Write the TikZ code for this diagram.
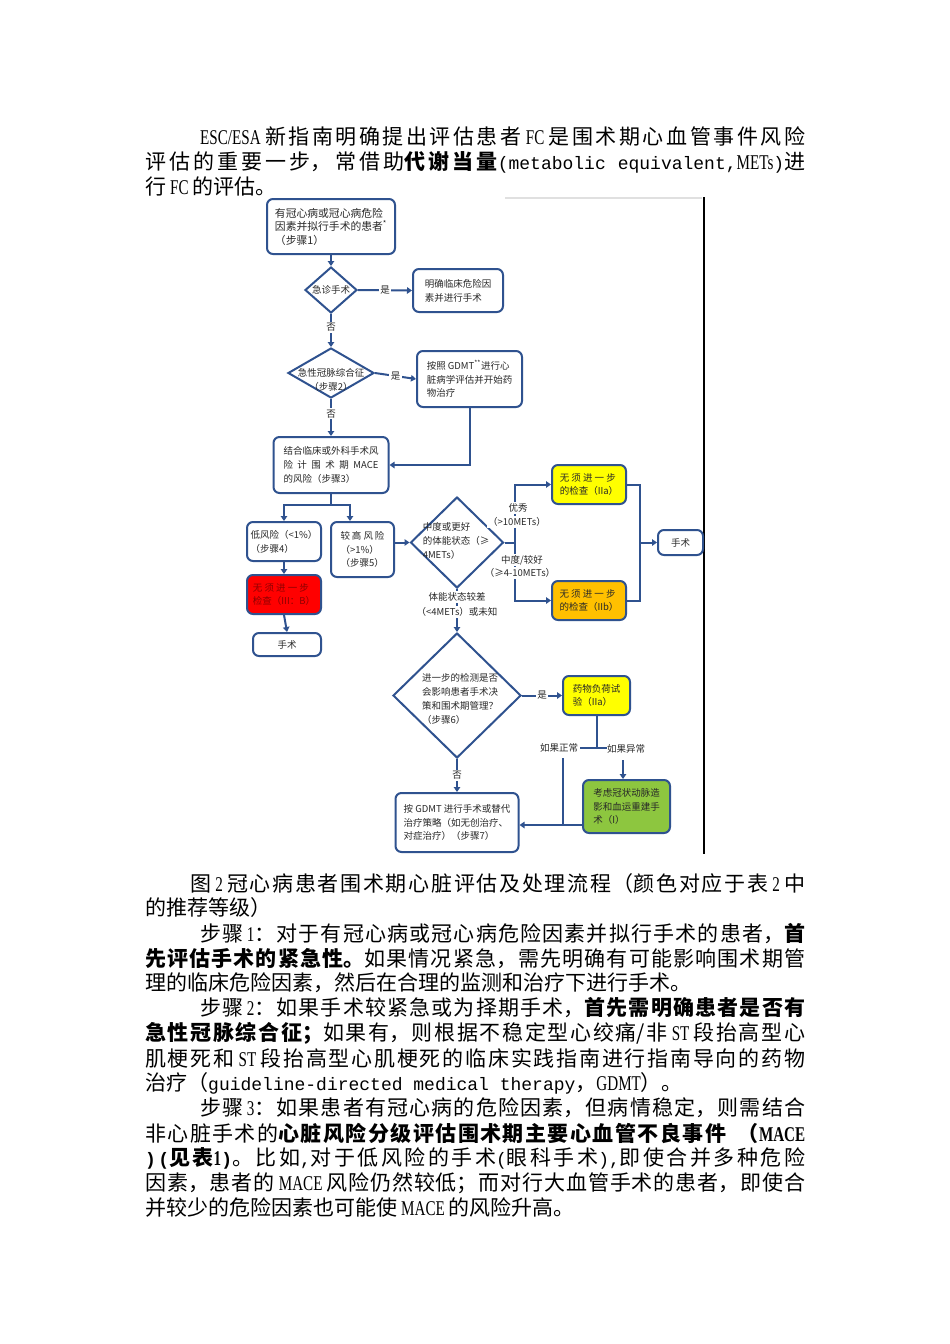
\documentclass[tikz,border=0pt]{standalone}
\usepackage{fontspec}
\usetikzlibrary{arrows.meta,shapes.geometric,calc}
\newfontfamily\cjk{Noto Sans CJK SC}
\newfontfamily\lat{Liberation Serif}[FakeStretch=0.72]
\newfontfamily\mono{Liberation Mono}
\XeTeXlinebreaklocale "zh"
\XeTeXlinebreakskip=0pt
\newcommand\bt{\cjk\fontsize{21}{25}\selectfont}
\newcommand\ff{\cjk\fontsize{9.5}{13.8}\selectfont}
\newcommand\la[1]{{\lat #1}}
\newcommand\las[1]{\hskip 4pt plus 2pt{\lat #1}\hskip 4pt plus 2pt\relax}
\newcommand\mo[1]{{\mono\fontsize{18}{25}\selectfont #1}}
\newcommand\jl[2]{\parbox{#1pt}{\XeTeXlinebreakskip=0pt plus 14pt\relax\leftskip=0pt\rightskip=0pt\parfillskip=0pt\noindent #2}}
\newcommand\spr[2]{\leavevmode\hbox to #1pt{#2}}
\definecolor{bc}{RGB}{47,82,143}
\definecolor{tc}{RGB}{40,40,40}
\definecolor{ylf}{RGB}{255,255,0}
\definecolor{orf}{RGB}{255,192,0}
\definecolor{rdf}{RGB}{255,0,0}
\definecolor{rdt}{RGB}{140,0,0}
\definecolor{grf}{RGB}{141,198,63}
\tikzset{
  bx/.style={draw=bc, line width=2pt, rounded corners=6pt, fill=white, inner sep=0pt,
    text=tc, font=\ff, align=left},
  dm/.style={draw=bc, line width=2pt, fill=white, diamond, inner sep=0pt},
  tx/.style={font=\ff, text=tc, align=left, inner sep=0pt},
  ar/.style={draw=bc, line width=2pt, -{Triangle[length=5pt,width=6.5pt]}},
  ln/.style={draw=bc, line width=2pt},
  lb/.style={font=\ff, text=tc, inner sep=1.5pt, fill=white},
  bl/.style={font=\bt, anchor=west, inner sep=0pt, text=black},
}
\begin{document}
\begin{tikzpicture}[x=1pt,y=-1pt]
\useasboundingbox (0,0) rectangle (950,1344);
\fill[white] (0,0) rectangle (950,1344);

% ---------- body text above ----------
\node[bl] (l1) at (200,137) {\jl{605}{\hbox{\lat ESC/ESA}\hskip 4pt plus 2pt 新指南明确提出评估患者\las{FC}是围术期心血管事件风险}};
\node[bl] (l2) at (145,162) {\jl{660}{评估的重要一步，常借助{\bfseries 代谢当量}\mo{(metabolic equivalent,}\la{METs}\mo{)}进}};
\node[bl] (l3) at (145,187) {行\las{FC}的评估。};

% ---------- figure frame ----------
\draw[black!12, line width=2.5pt] (505,198) -- (702,198);
\draw[black, line width=1.3pt] (704,197) -- (704,854);

% ---------- flowchart ----------
\node[bx, font=\cjk\fontsize{10.8}{13.5}\selectfont, minimum width=128pt, minimum height=55pt] (b1) at (331,226.5)
  {有冠心病或冠心病危险\\因素并拟行手术的患者\textsuperscript{*}\\（步骤1）};
\node[dm, minimum width=52pt, minimum height=46pt] (d1) at (331,290) {};
\node[tx] (t1) at (d1) {急诊手术};
\node[bx, minimum width=90pt, minimum height=43pt] (b2) at (458,290.5)
  {明确临床危险因\\素并进行手术};
\node[dm, minimum width=86pt, minimum height=50pt] (d2) at (331,373) {};
\node[tx, align=center] (t2) at (331,380) {急性冠脉综合征\\（步骤2）};
\node[bx, minimum width=105pt, minimum height=56pt] (b3) at (469.5,379)
  {按照 GDMT\textsuperscript{**}进行心\\脏病学评估并开始药\\物治疗};
\node[bx, minimum width=115pt, minimum height=56pt] (b4) at (331,465)
  {结合临床或外科手术风\\\spr{95}{险\hfill 计\hfill 围\hfill 术\hfill 期\hfill MACE}\\的风险（步骤3）};
\node[bx, minimum width=74pt, minimum height=39pt] (b5) at (284,541.5)
  {低风险（<1\%）\\（步骤4）};
\node[bx, minimum width=63pt, minimum height=55pt] (b6) at (362.5,549.5)
  {\spr{44}{较\hfill 高\hfill 风\hfill 险}\\（>1\%）\\（步骤5）};
\node[bx, fill=rdf, text=rdt, minimum width=74pt, minimum height=39pt] (rd) at (284,594.5)
  {\spr{56}{无\hfill 须\hfill 进\hfill 一\hfill 步}\\检查（III：B）};
\node[bx, align=center, minimum width=68pt, minimum height=23pt] (b7) at (287,644.5) {手术};
\node[dm, minimum width=93pt, minimum height=91pt] (d3) at (457,542.5) {};
\node[tx] (t3) at (456,541) {中度或更好\\的体能状态（≥\\4METs）};
\node[bx, fill=ylf, minimum width=74pt, minimum height=39pt] (y1) at (589,484.5)
  {\spr{56}{无\hfill 须\hfill 进\hfill 一\hfill 步}\\的检查（IIa）};
\node[bx, fill=orf, minimum width=74pt, minimum height=39pt] (o1) at (589,600.5)
  {\spr{56}{无\hfill 须\hfill 进\hfill 一\hfill 步}\\的检查（IIb）};
\node[bx, align=center, minimum width=45pt, minimum height=25pt] (b8) at (680.5,542.5) {手术};
\node[dm, minimum width=128pt, minimum height=125pt] (d4) at (457,695.5) {};
\node[tx] (t4) at (460,699) {进一步的检测是否\\会影响患者手术决\\策和围术期管理？\\（步骤6）};
\node[bx, fill=ylf, minimum width=67pt, minimum height=39pt] (y2) at (596.5,695.5)
  {药物负荷试\\验（IIa）};
\node[bx, fill=grf, minimum width=87pt, minimum height=53pt] (gr) at (626.5,806.5)
  {考虑冠状动脉造\\影和血运重建手\\术（I）};
\node[bx, minimum width=123pt, minimum height=59pt] (b9) at (457,822.5)
  {按 GDMT 进行手术或替代\\治疗策略（如无创治疗、\\对症治疗）（步骤7）};

% connectors
\draw[ar] (b1.south) -- (d1.north);
\draw[ar] (d1.east) -- (b2.west) node[lb, midway] (ly1) {是};
\draw[ar] (d1.south) -- (d2.north) node[lb, pos=0.4] (ln1) {否};
\draw[ar] (d2.east) -- (b3.west) node[lb, midway] (ly2) {是};
\draw[ar] (d2.south) -- (b4.north) node[lb, pos=0.4] (ln2) {否};
\draw[ar] (b3.south) |- (b4.east);
\coordinate (j1) at (331,505);
\coordinate (j1r) at (350,505);
\draw[ln] (b4.south) -- (j1);
\draw[ar] (j1) -| (b5.north);
\draw[ar] (j1) -- (j1r) -- (j1r |- b6.north);
\draw[ar] (b5.south) -- (rd.north);
\draw[ar] (rd.south) -- (b7.north);
\draw[ar] (b6.east |- d3.west) -- (d3.west);
\coordinate (s1) at (515,542.5);
\coordinate (s2) at (640,542.5);
\draw[ln] (d3.east) -- (s1);
\draw[ar] (s1) |- (y1.west);
\draw[ar] (s1) |- (o1.west);
\draw[ln] (y1.east) -| (s2);
\draw[ln] (o1.east) -| (s2);
\draw[ar] (s2) -- (b8.west);
\node[lb] (lg1) at (518,508) {优秀};
\node[lb] (lg2) at (517,522) {（>10METs）};
\node[lb] (lg3) at (522,560) {中度/较好};
\node[lb] (lg4) at (520,573) {（≥4-10METs）};
\draw[ar] (d3.south) -- (d4.north);
\node[lb] (lp1) at (457,597) {体能状态较差};
\node[lb] (lp2) at (457,612) {（<4METs）或未知};
\draw[ar] (d4.east) -- (y2.west) node[lb, midway] (ly3) {是};
\coordinate (tj) at (596.5,748);
\coordinate (tl) at (580,748);
\coordinate (tr) at (607,748);
\draw[ln] (y2.south) -- (tj);
\draw[ln] (tl) -- (tr);
\node[lb, fill=none] (lnorm) at (559,748) {如果正常};
\node[lb, fill=none] (labn) at (626,749) {如果异常};
\coordinate (ga) at (623,760);
\draw[ar] (ga) -- (ga |- gr.north);
\coordinate (nn) at (563,758);
\coordinate (gw) at (583,825);
\draw[ln] (nn) -- (nn |- gw);
\draw[ar] (gw) -- (gw -| b9.east);
\draw[ar] (d4.south) -- (b9.north) node[lb, midway] (ln3) {否};

% ---------- body text below ----------
\node[bl] (c1) at (190,884) {\jl{615}{图\las{2}冠心病患者围术期心脏评估及处理流程（颜色对应于表\las{2}中}};
\node[bl] (c2) at (145,908) {的推荐等级）};
\node[bl] (s1a) at (200,934) {\jl{605}{步骤\,\la{1}：对于有冠心病或冠心病危险因素并拟行手术的患者，{\bfseries 首}}};
\node[bl] (s1b) at (145,959) {\jl{660}{{\bfseries 先评估手术的紧急性。}如果情况紧急，需先明确有可能影响围术期管}};
\node[bl] (s1c) at (145,983) {理的临床危险因素，然后在合理的监测和治疗下进行手术。};
\node[bl] (s2a) at (200,1008) {\jl{605}{步骤\,\la{2}：如果手术较紧急或为择期手术，{\bfseries 首先需明确患者是否有}}};
\node[bl] (s2b) at (145,1033) {\jl{660}{{\bfseries 急性冠脉综合征；}如果有，则根据不稳定型心绞痛/非\las{ST}段抬高型心}};
\node[bl] (s2c) at (145,1058) {\jl{660}{肌梗死和\las{ST}段抬高型心肌梗死的临床实践指南进行指南导向的药物}};
\node[bl] (s2d) at (145,1083) {治疗（\mo{guideline-directed medical therapy}，\la{GDMT}）。};
\node[bl] (s3a) at (200,1108) {\jl{605}{步骤\,\la{3}：如果患者有冠心病的危险因素，但病情稳定，则需结合}};
\node[bl] (s3b) at (145,1133) {\jl{660}{非心脏手术的{\bfseries 心脏风险分级评估围术期主要心血管不良事件\hskip 12pt（\la{MACE}}}};
\node[bl] (s3c) at (145,1158) {\jl{660}{{\bfseries \mo{)(}见表\la{1}\mo{)}}。比如\mo{,}对于低风险的手术\mo{(}眼科手术\mo{),}即使合并多种危险}};
\node[bl] (s3d) at (145,1183) {\jl{660}{因素，患者的\las{MACE}风险仍然较低；而对行大血管手术的患者，即使合}};
\node[bl] (s3e) at (145,1208) {并较少的危险因素也可能使\las{MACE}的风险升高。};
\end{tikzpicture}
\end{document}
